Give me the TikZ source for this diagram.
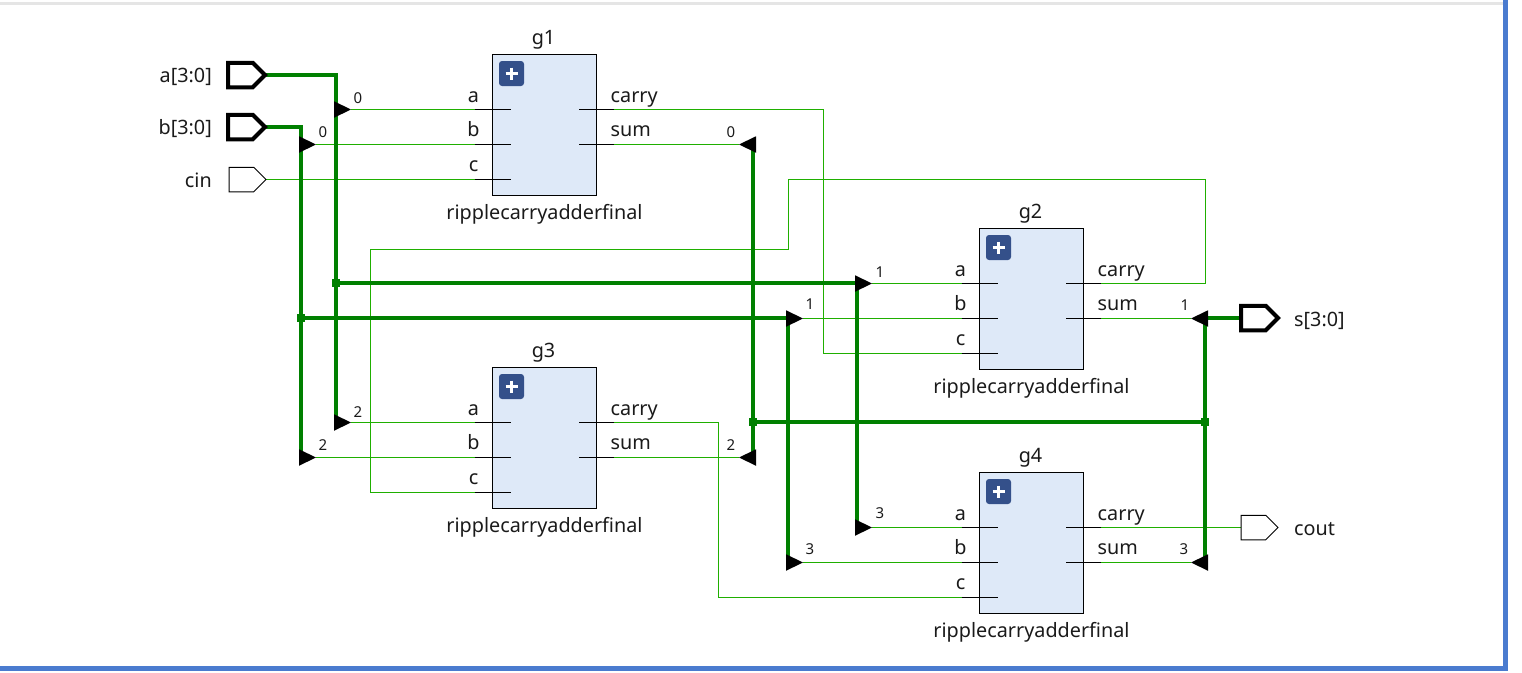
\documentclass[tikz,border=0pt]{standalone}
\usepackage{fontspec}
\setmainfont{Noto Sans}
\usetikzlibrary{calc}
\usetikzlibrary{shapes.geometric}
\usetikzlibrary{shapes.symbols}
\usetikzlibrary{backgrounds}

\definecolor{netgreen}{HTML}{1FAF00}
\definecolor{busgreen}{HTML}{008000}
\definecolor{blockfill}{HTML}{DEE9F8}
\definecolor{iconblue}{HTML}{34508A}
\definecolor{framebar}{HTML}{4A7BCF}
\definecolor{labelgray}{HTML}{1A1A1A}

\tikzset{
    net/.style={draw=netgreen,line width=1pt},
    bus/.style={draw=busgreen,line width=4pt},
    stub/.style={draw=black,line width=1pt},
    block/.style={draw=black,fill=blockfill,line width=1pt,minimum width=104pt,minimum height=141pt,inner sep=0pt,outer sep=0pt},
    icon/.style={fill=iconblue,rounded corners=3pt,minimum size=25pt,inner sep=0pt,anchor=north west},
    ripr/.style={isosceles triangle,isosceles triangle stretches,fill=black,inner sep=0pt,outer sep=0pt,minimum width=16.5pt,minimum height=17pt,anchor=apex},
    ripl/.style={ripr,shape border rotate=180},
    tap/.style={fill=busgreen,minimum size=8pt,inner sep=0pt,outer sep=0pt},
    port/.style={signal,signal to=east,signal from=nowhere,signal pointer angle=90,draw=black,fill=white,line width=1pt,minimum width=37pt,minimum height=24.5pt,inner sep=0pt,outer sep=0pt,anchor=east},
    busport/.style={port,line width=4pt},
    txt/.style={text=labelgray,font=\fontsize{19.8}{22}\selectfont,inner sep=0pt},
    idx/.style={text=labelgray,font=\fontsize{15}{17}\selectfont,inner sep=0pt},
}

\begin{document}
\begin{tikzpicture}[x=1pt,y=-1pt]
    \useasboundingbox (0,0) rectangle (1522,672);

    \fill[gray!20] (0,2) rectangle (1503,5);
    \fill[framebar] (1503,0) rectangle (1508,671);
    \fill[framebar] (0,666) rectangle (1508,671);

    % adders
    \foreach \name/\x/\y in {g1/544.5/125,g2/1031.5/299,g3/544.5/438,g4/1031.5/543} {
        \node[block] (\name) at (\x,\y) {};
        \node[icon] (\name icon) at ($(\name.north west)+(6.3,6.3)$) {};
        \draw[white,line width=3pt] ($(\name icon.center)-(6,0)$) -- ($(\name icon.center)+(6,0)$);
        \draw[white,line width=3pt] ($(\name icon.center)-(0,6)$) -- ($(\name icon.center)+(0,6)$);
        \node[txt,anchor=base] (\name title) at ($(\name.north)+(-1,-10)$) {\name};
        \node[txt,anchor=base] (\name type) at ($(\name.south)+(0,23.5)$) {ripplecarryadderfinal};
        \foreach \pin/\dy/\up in {a/-15.5/7,b/19.5/8,c/54.5/8} {
            \coordinate (\name\pin) at ($(\name.center)+(-70,\dy)$);
            \draw[stub] (\name\pin) -- ++(36,0);
            \node[txt,anchor=base] (\name\pin txt) at ($(\name.center)+(-71,\dy-\up)$) {\pin};
        }
        \foreach \pin/\dy/\up in {carry/-15.5/7,sum/19.5/8} {
            \coordinate (\name\pin) at ($(\name.center)+(69,\dy)$);
            \draw[stub] (\name\pin) -- ++(-35,0);
            \node[txt,anchor=base west] (\name\pin txt) at ($(\name.center)+(66,\dy-\up)$) {\pin};
        }
    }

    % ports
    \node[busport] (pa) at (265,75) {};
    \node[busport] (pb) at (265,127) {};
    \node[port] (pcin) at (266,179.5) {};
    \node[busport] (ps) at (1278,318) {};
    \node[port] (pcout) at (1278,527.5) {};
    \node[txt,anchor=east] (ta) at (212,77) {a[3:0]};
    \node[txt,anchor=east] (tb) at (212,129) {b[3:0]};
    \node[txt,anchor=east] (tcin) at (212,180) {cin};
    \node[txt,anchor=west] (ts) at (1294,321) {s[3:0]};
    \node[txt,anchor=west] (tcout) at (1294,529) {cout};

    % rippers
    \foreach \name/\x/\y in {ra0/351/109.5,rb0/316/144.5,ra2/351/422.5,rb2/316/457.5,
                             ra1/872/283.5,rb1/803/318.5,ra3/872/527.5,rb3/803/562.5}
        \node[ripr] (\name) at (\x,\y) {};
    \foreach \name/\x/\y in {rs0/739/144.5,rs2/739/457.5,rs1/1191/318.5,rs3/1191/562.5}
        \node[ripl] (\name) at (\x,\y) {};
    \foreach \name/\x/\y/\t in {la0/358/98/0,lb0/323/132/0,ls0/731/132/0,la1/880/272/1,lb1/810/304/1,
                                ls1/1185/305/1,la2/358/412/2,lb2/323/445/2,ls2/731/445/2,
                                la3/880/513/3,lb3/810/549/3,ls3/1184/549/3}
        \node[idx] (\name) at (\x,\y) {\t};

    % junctions
    \node[tap] (ja) at (336,283) {};
    \node[tap] (jb) at (301,318) {};
    \node[tap] (js0) at (753,422) {};
    \node[tap] (js1) at (1205,422) {};

    \begin{scope}[on background layer]
        % single bit nets
        \draw[net] (ra0.apex) -- (g1a);
        \draw[net] (rb0.apex) -- (g1b);
        \draw[net] (pcin.east) -- (g1c);
        \draw[net] (g1sum) -- (rs0.apex);
        \draw[net] (g1carry) -- (823.5,109.5) -- (823.5,353.5) -- (g2c);
        \draw[net] (ra1.apex) -- (g2a);
        \draw[net] (rb1.apex) -- (g2b);
        \draw[net] (g2sum) -- (rs1.apex);
        \draw[net] (g2carry) -- (1205.5,283.5) -- (1205.5,179.5) -- (788.5,179.5) -- (788.5,249.5) -- (370.5,249.5) -- (370.5,492.5) -- (g3c);
        \draw[net] (ra2.apex) -- (g3a);
        \draw[net] (rb2.apex) -- (g3b);
        \draw[net] (g3sum) -- (rs2.apex);
        \draw[net] (g3carry) -- (718.5,422.5) -- (718.5,597.5) -- (g4c);
        \draw[net] (ra3.apex) -- (g4a);
        \draw[net] (rb3.apex) -- (g4b);
        \draw[net] (g4sum) -- (rs3.apex);
        \draw[net] (g4carry) -- (pcout.west);

        % buses
        \draw[bus] (pa.east) -| ([xshift=2pt]ra2.lower side);
        \draw[bus] (pb.east) -| ([xshift=2pt]rb2.lower side);
        \draw[bus] (ja.center) -- (ja.center -| ra1.lower side);
        \draw[bus] (jb.center) -- (jb.center -| rb1.lower side);
        \draw[bus] ([xshift=2pt]ra1.lower side) -- ([xshift=2pt]ra3.lower side);
        \draw[bus] ([xshift=2pt]rb1.lower side) -- ([xshift=2pt]rb3.lower side);
        \draw[bus] ([xshift=-3pt]rs0.lower side) -- ([xshift=-3pt]rs2.lower side);
        \draw[bus] ([xshift=-3pt]rs1.lower side) -- ([xshift=-3pt]rs3.lower side);
        \draw[bus] (js0.center) -- (js1.center);
        \draw[bus] (ps.west) -- (ps.west -| rs1.lower side);
    \end{scope}
\end{tikzpicture}
\end{document}
